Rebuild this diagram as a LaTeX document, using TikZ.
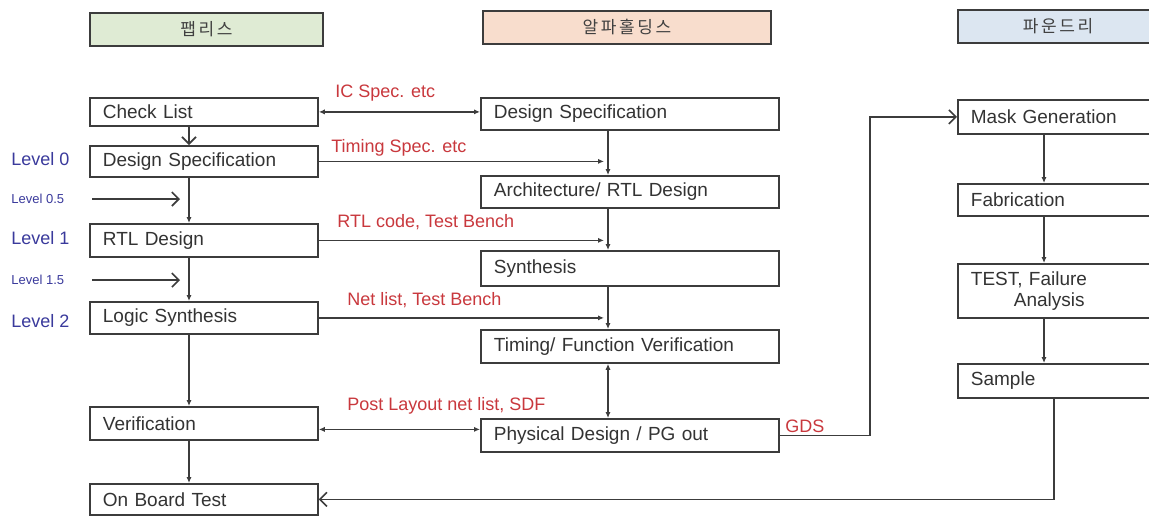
\documentclass[tikz,border=0pt]{standalone}
\usepackage{fontspec}
\setmainfont{Liberation Sans}
\newfontfamily\kofont{Noto Sans CJK KR}
\usetikzlibrary{arrows.meta}
\definecolor{boxline}{HTML}{3C3C3C}
\definecolor{sigred}{HTML}{C9383D}
\definecolor{lvlblue}{HTML}{3A3A9C}
\definecolor{fabless}{HTML}{DFEBD4}
\definecolor{house}{HTML}{F8DDCD}
\definecolor{foundry}{HTML}{DCE6F1}
\newcommand{\ks}{\kern1.3pt}
\tikzset{
	blk/.style={draw=boxline,line width=0.9pt,anchor=north west,inner xsep=6.5pt,inner ysep=0pt,align=left,text=black!80,font=\fontsize{9.5}{10.5}\selectfont,minimum height=#1},
	blk/.default=16pt,
	lblk/.style={blk=#1,text width=101pt}, lblk/.default=16pt,
	mblk/.style={blk=#1,text width=136pt}, mblk/.default=16pt,
	rblk/.style={blk=#1,text width=90pt}, rblk/.default=16pt,
	hd/.style={draw=boxline,line width=1pt,anchor=north west,minimum height=16.5pt,text=black!75,font=\kofont\fontsize{8.5}{9}\selectfont},
	lvl/.style={text=lvlblue,anchor=west,inner sep=0pt,font=\fontsize{9}{10}\selectfont},
	lvs/.style={lvl,font=\fontsize{6.5}{8}\selectfont},
	sig/.style={text=sigred,anchor=base west,inner sep=0pt,font=\fontsize{9}{10}\selectfont},
	ln/.style={draw=boxline,line width=0.8pt},
	sarrow/.style={ln,-{Latex[length=3pt,width=2.6pt]}},
	darrow/.style={ln,{Latex[length=3pt,width=2.6pt]}-{Latex[length=3pt,width=2.6pt]}},
	oarrow/.style={ln,-{Straight Barb[length=3.5pt,width=7pt]}}
}
\begin{document}
\begin{tikzpicture}[x=0.5pt,y=-0.5pt]
	\useasboundingbox[fill=white] (0,0) rectangle (1149,515);
	%\draw[step=50,gray!20] (0,0) grid (1149,515); %Hilfsgitter
	\node[hd,fill=fabless,minimum width=116.5pt] (hfab) at (89,12) {팹\ks 리\ks 스};
	\node[hd,fill=house,minimum width=144pt] (hhouse) at (482,10) {알\ks 파\ks 홀\ks 딩\ks 스};
	\node[hd,fill=foundry,minimum width=100pt] (hfound) at (957,9) {파\ks 운\ks 드\ks 리};
	
	% Fabless
	\node[lblk=14pt] (chk) at (89,97) {Check List};
	\node[lblk=15.5pt] (lspec) at (89,145) {Design Specification};
	\node[lblk=16.5pt] (rtl) at (89,223) {RTL Design};
	\node[lblk] (logic) at (89,301) {Logic Synthesis};
	\node[lblk=16.5pt] (verif) at (89,406) {Verification};
	\node[lblk=15.5pt] (obt) at (89,483) {On Board Test};
	
	% Design house
	\node[mblk] (mspec) at (480,97) {Design Specification};
	\node[mblk] (arch) at (480,175) {Architecture/ RTL Design};
	\node[mblk=17.5pt] (syn) at (480,250) {Synthesis};
	\node[mblk=16.5pt] (tfv) at (480,329) {Timing/ Function Verification};
	\node[mblk=16.5pt] (pd) at (480,418) {Physical Design / PG out};
	
	% Foundry
	\node[rblk=17pt] (mask) at (957,99) {Mask Generation};
	\node[rblk] (fab) at (957,183) {Fabrication};
	\node[rblk=27pt] (test) at (957,263) {TEST, Failure\\\hspace*{21.5pt}Analysis};
	\node[rblk=17pt] (smp) at (957,363) {Sample};
	
	\node[lvl] (lv0) at (11,159) {Level 0}; \node[lvs] (lv05) at (11,199) {Level 0.5}; \node[lvl] (lv1) at (11,238) {Level 1};
	\node[lvs] (lv15) at (11,280) {Level 1.5}; \node[lvl] (lv2) at (11,321) {Level 2};
	
	\coordinate (lx) at (189,0); \coordinate (mx) at (608,0); \coordinate (rx) at (1044,0); \coordinate (sx) at (1054,0); \coordinate (lvgo) at (92,0);
	
	\draw[oarrow] (chk.south -| lx) -- (lspec.north -| lx);
	\draw[sarrow] (lspec.south -| lx) -- (rtl.north -| lx); \draw[sarrow] (rtl.south -| lx) -- (logic.north -| lx);
	\draw[sarrow] (logic.south -| lx) -- (verif.north -| lx); \draw[sarrow] (verif.south -| lx) -- (obt.north -| lx);
	\draw[oarrow,shorten >=4.5pt] (lv05.east -| lvgo) -- (lv05.east -| lx); \draw[oarrow,shorten >=4.5pt] (lv15.east -| lvgo) -- (lv15.east -| lx);
	
	\draw[sarrow] (mspec.south -| mx) -- (arch.north -| mx); \draw[sarrow] (arch.south -| mx) -- (syn.north -| mx);
	\draw[sarrow] (syn.south -| mx) -- (tfv.north -| mx); \draw[darrow] (tfv.south -| mx) -- (pd.north -| mx);
	
	\draw[sarrow] (mask.south -| rx) -- (fab.north -| rx); \draw[sarrow] (fab.south -| rx) -- (test.north -| rx);
	\draw[sarrow] (test.south -| rx) -- (smp.north -| rx);
	
	\draw[darrow] (chk.east) -- (chk.east -| mspec.west); \node[sig] (icspec) at (335,97) {IC Spec. etc};
	\draw[sarrow,shorten >=2pt] (lspec.east) -- (lspec.east -| mx); \node[sig] (tmspec) at (331,152) {Timing Spec. etc};
	\draw[sarrow,shorten >=2pt] (rtl.east) -- (rtl.east -| mx); \node[sig] (rtlcode) at (337,227) {RTL code, Test Bench};
	\draw[sarrow,shorten >=2pt] (logic.east) -- (logic.east -| mx); \node[sig] (netlist) at (347,305) {Net list, Test Bench};
	\draw[darrow] ([yshift=-3pt]verif.east) -- ([yshift=-3pt]verif.east -| pd.west); \node[sig] (postlay) at (347,410) {Post Layout net list, SDF};
	
	\draw[oarrow] (pd.east) -- ++(90,0) |- (mask.west); \node[sig] (gds) at (785,432) {GDS};
	\draw[oarrow] (smp.south -| sx) |- (obt.east);
\end{tikzpicture}
\end{document}
